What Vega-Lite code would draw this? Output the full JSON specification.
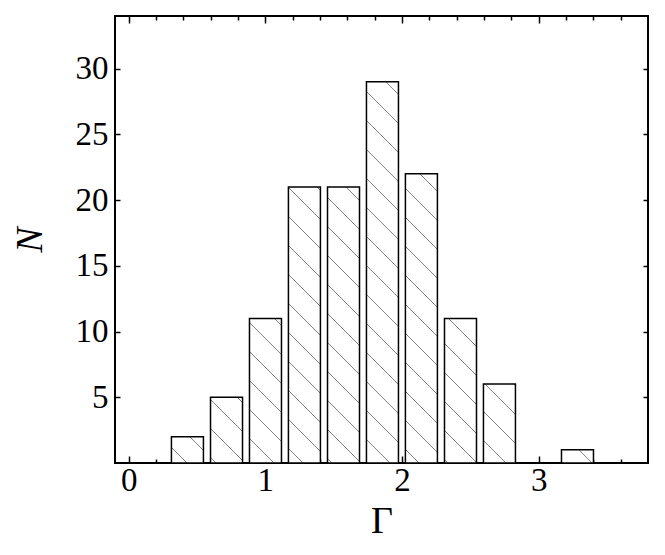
{
  "$schema": "https://vega.github.io/schema/vega-lite/v6.json",
  "width": 533,
  "height": 447,
  "autosize": {"type": "none"},
  "padding": {"left": 115, "top": 16, "right": 17, "bottom": 92},
  "background": "white",
  "config": {
    "view": {"stroke": "black", "strokeWidth": 2},
    "axis": {
      "domain": false,
      "grid": false,
      "tickColor": "black",
      "tickWidth": 1.5,
      "labelFont": "Liberation Serif",
      "labelFontSize": 33,
      "labelColor": "black",
      "labelOverlap": false,
      "labelFlush": false,
      "labelBound": false,
      "titleFont": "Liberation Serif",
      "titleFontSize": 38,
      "titleFontWeight": "normal",
      "titleColor": "black"
    }
  },
  "data": {
    "values": [
      {"gamma": 0.430, "N": 2},
      {"gamma": 0.716, "N": 5},
      {"gamma": 1.001, "N": 11},
      {"gamma": 1.286, "N": 21},
      {"gamma": 1.572, "N": 21},
      {"gamma": 1.857, "N": 29},
      {"gamma": 2.142, "N": 22},
      {"gamma": 2.428, "N": 11},
      {"gamma": 2.713, "N": 6},
      {"gamma": 3.284, "N": 1}
    ]
  },
  "resolve": {"axis": {"x": "independent", "y": "independent"}},
  "layer": [
    {
      "mark": {"type": "bar", "size": 32, "stroke": "black", "strokeWidth": 1.5},
      "encoding": {
        "x": {
          "field": "gamma", "type": "quantitative",
          "scale": {"domain": [-0.1, 3.8], "nice": false, "zero": false, "padding": 0},
          "axis": {
            "orient": "bottom",
            "title": "Γ",
            "values": [0, 0.2, 0.4, 0.6, 0.8, 1, 1.2, 1.4, 1.6, 1.8, 2, 2.2, 2.4, 2.6, 2.8, 3, 3.2, 3.4, 3.6],
            "labelExpr": "datum.value % 1 === 0 ? format(datum.value, 'd') : ''",
            "tickSize": {"condition": {"test": "datum.value % 1 === 0", "value": -7}, "value": -4},
            "labelPadding": 8,
            "titlePadding": 2
          }
        },
        "y": {
          "field": "N", "type": "quantitative",
          "scale": {"domain": [0, 34], "nice": false, "padding": 0},
          "axis": {
            "orient": "left",
            "title": "N",
            "titleFontStyle": "italic",
            "values": [5, 10, 15, 20, 25, 30],
            "tickSize": -5,
            "labelPadding": 12,
            "titlePadding": 26
          }
        },
        "fill": {
          "condition": [
            {"test": "datum.gamma == 0.43", "value": {"gradient": "linear", "x1": 0, "y1": 1, "x2": 1.0875, "y2": 0.1065, "stops": [
              {"offset": 0.2504, "color": "#fff"}, {"offset": 0.2676, "color": "#808080"}, {"offset": 0.2848, "color": "#fff"},
              {"offset": 0.7479, "color": "#fff"}, {"offset": 0.7651, "color": "#808080"}, {"offset": 0.7823, "color": "#fff"}]}},
            {"test": "datum.gamma == 0.716", "value": {"gradient": "linear", "x1": 0, "y1": 1, "x2": 0.5851, "y2": -0.202, "stops": [
              {"offset": 0.0461, "color": "#fff"}, {"offset": 0.0563, "color": "#808080"}, {"offset": 0.0665, "color": "#fff"},
              {"offset": 0.3428, "color": "#fff"}, {"offset": 0.3530, "color": "#808080"}, {"offset": 0.3632, "color": "#fff"},
              {"offset": 0.6395, "color": "#fff"}, {"offset": 0.6497, "color": "#808080"}, {"offset": 0.6599, "color": "#fff"},
              {"offset": 0.9362, "color": "#fff"}, {"offset": 0.9464, "color": "#808080"}, {"offset": 0.9566, "color": "#fff"}]}},
            {"test": "datum.gamma == 1.001", "value": {"gradient": "linear", "x1": 0, "y1": 1, "x2": 0.2576, "y2": -0.1643, "stops": [
              {"offset": 0.1330, "color": "#fff"}, {"offset": 0.1387, "color": "#808080"}, {"offset": 0.1444, "color": "#fff"},
              {"offset": 0.2972, "color": "#fff"}, {"offset": 0.3029, "color": "#808080"}, {"offset": 0.3086, "color": "#fff"},
              {"offset": 0.4614, "color": "#fff"}, {"offset": 0.4671, "color": "#808080"}, {"offset": 0.4728, "color": "#fff"},
              {"offset": 0.6256, "color": "#fff"}, {"offset": 0.6313, "color": "#808080"}, {"offset": 0.6370, "color": "#fff"},
              {"offset": 0.7898, "color": "#fff"}, {"offset": 0.7955, "color": "#808080"}, {"offset": 0.8012, "color": "#fff"},
              {"offset": 0.9540, "color": "#fff"}, {"offset": 0.9597, "color": "#808080"}, {"offset": 0.9654, "color": "#fff"}]}},
            {"test": "datum.gamma == 1.286", "value": {"gradient": "linear", "x1": 0, "y1": 1, "x2": 0.12762, "y2": -0.1011, "stops": [
              {"offset": 0.0441, "color": "#fff"}, {"offset": 0.0474, "color": "#808080"}, {"offset": 0.0507, "color": "#fff"},
              {"offset": 0.1382, "color": "#fff"}, {"offset": 0.1415, "color": "#808080"}, {"offset": 0.1448, "color": "#fff"},
              {"offset": 0.2323, "color": "#fff"}, {"offset": 0.2356, "color": "#808080"}, {"offset": 0.2389, "color": "#fff"},
              {"offset": 0.3265, "color": "#fff"}, {"offset": 0.3298, "color": "#808080"}, {"offset": 0.3331, "color": "#fff"},
              {"offset": 0.4206, "color": "#fff"}, {"offset": 0.4239, "color": "#808080"}, {"offset": 0.4272, "color": "#fff"},
              {"offset": 0.5147, "color": "#fff"}, {"offset": 0.5180, "color": "#808080"}, {"offset": 0.5213, "color": "#fff"},
              {"offset": 0.6089, "color": "#fff"}, {"offset": 0.6122, "color": "#808080"}, {"offset": 0.6155, "color": "#fff"},
              {"offset": 0.7030, "color": "#fff"}, {"offset": 0.7063, "color": "#808080"}, {"offset": 0.7096, "color": "#fff"},
              {"offset": 0.7971, "color": "#fff"}, {"offset": 0.8004, "color": "#808080"}, {"offset": 0.8037, "color": "#fff"},
              {"offset": 0.8912, "color": "#fff"}, {"offset": 0.8945, "color": "#808080"}, {"offset": 0.8978, "color": "#fff"},
              {"offset": 0.9854, "color": "#fff"}, {"offset": 0.9887, "color": "#808080"}, {"offset": 0.9920, "color": "#fff"}]}},
            {"test": "datum.gamma == 1.572", "value": {"gradient": "linear", "x1": 0, "y1": 1, "x2": 0.12762, "y2": -0.1011, "stops": [
              {"offset": 0.0113, "color": "#fff"}, {"offset": 0.0146, "color": "#808080"}, {"offset": 0.0179, "color": "#fff"},
              {"offset": 0.1054, "color": "#fff"}, {"offset": 0.1087, "color": "#808080"}, {"offset": 0.1120, "color": "#fff"},
              {"offset": 0.1996, "color": "#fff"}, {"offset": 0.2029, "color": "#808080"}, {"offset": 0.2062, "color": "#fff"},
              {"offset": 0.2937, "color": "#fff"}, {"offset": 0.2970, "color": "#808080"}, {"offset": 0.3003, "color": "#fff"},
              {"offset": 0.3878, "color": "#fff"}, {"offset": 0.3911, "color": "#808080"}, {"offset": 0.3944, "color": "#fff"},
              {"offset": 0.4819, "color": "#fff"}, {"offset": 0.4852, "color": "#808080"}, {"offset": 0.4885, "color": "#fff"},
              {"offset": 0.5761, "color": "#fff"}, {"offset": 0.5794, "color": "#808080"}, {"offset": 0.5827, "color": "#fff"},
              {"offset": 0.6702, "color": "#fff"}, {"offset": 0.6735, "color": "#808080"}, {"offset": 0.6768, "color": "#fff"},
              {"offset": 0.7643, "color": "#fff"}, {"offset": 0.7676, "color": "#808080"}, {"offset": 0.7709, "color": "#fff"},
              {"offset": 0.8585, "color": "#fff"}, {"offset": 0.8618, "color": "#808080"}, {"offset": 0.8651, "color": "#fff"},
              {"offset": 0.9526, "color": "#fff"}, {"offset": 0.9559, "color": "#808080"}, {"offset": 0.9592, "color": "#fff"}]}},
            {"test": "datum.gamma == 1.857", "value": {"gradient": "linear", "x1": 0, "y1": 1, "x2": 0.09034, "y2": -0.0763, "stops": [
              {"offset": 0.0545, "color": "#fff"}, {"offset": 0.0569, "color": "#808080"}, {"offset": 0.0593, "color": "#fff"},
              {"offset": 0.1246, "color": "#fff"}, {"offset": 0.1270, "color": "#808080"}, {"offset": 0.1294, "color": "#fff"},
              {"offset": 0.1948, "color": "#fff"}, {"offset": 0.1972, "color": "#808080"}, {"offset": 0.1996, "color": "#fff"},
              {"offset": 0.2650, "color": "#fff"}, {"offset": 0.2674, "color": "#808080"}, {"offset": 0.2698, "color": "#fff"},
              {"offset": 0.3352, "color": "#fff"}, {"offset": 0.3376, "color": "#808080"}, {"offset": 0.3400, "color": "#fff"},
              {"offset": 0.4053, "color": "#fff"}, {"offset": 0.4077, "color": "#808080"}, {"offset": 0.4101, "color": "#fff"},
              {"offset": 0.4755, "color": "#fff"}, {"offset": 0.4779, "color": "#808080"}, {"offset": 0.4803, "color": "#fff"},
              {"offset": 0.5457, "color": "#fff"}, {"offset": 0.5481, "color": "#808080"}, {"offset": 0.5505, "color": "#fff"},
              {"offset": 0.6159, "color": "#fff"}, {"offset": 0.6183, "color": "#808080"}, {"offset": 0.6207, "color": "#fff"},
              {"offset": 0.6860, "color": "#fff"}, {"offset": 0.6884, "color": "#808080"}, {"offset": 0.6908, "color": "#fff"},
              {"offset": 0.7562, "color": "#fff"}, {"offset": 0.7586, "color": "#808080"}, {"offset": 0.7610, "color": "#fff"},
              {"offset": 0.8264, "color": "#fff"}, {"offset": 0.8288, "color": "#808080"}, {"offset": 0.8312, "color": "#fff"},
              {"offset": 0.8966, "color": "#fff"}, {"offset": 0.8990, "color": "#808080"}, {"offset": 0.9014, "color": "#fff"},
              {"offset": 0.9667, "color": "#fff"}, {"offset": 0.9691, "color": "#808080"}, {"offset": 0.9715, "color": "#fff"}]}},
            {"test": "datum.gamma == 2.142", "value": {"gradient": "linear", "x1": 0, "y1": 1, "x2": 0.12139, "y2": -0.0972, "stops": [
              {"offset": 0.0392, "color": "#fff"}, {"offset": 0.0423, "color": "#808080"}, {"offset": 0.0454, "color": "#fff"},
              {"offset": 0.1295, "color": "#fff"}, {"offset": 0.1326, "color": "#808080"}, {"offset": 0.1357, "color": "#fff"},
              {"offset": 0.2198, "color": "#fff"}, {"offset": 0.2229, "color": "#808080"}, {"offset": 0.2260, "color": "#fff"},
              {"offset": 0.3101, "color": "#fff"}, {"offset": 0.3132, "color": "#808080"}, {"offset": 0.3163, "color": "#fff"},
              {"offset": 0.4003, "color": "#fff"}, {"offset": 0.4034, "color": "#808080"}, {"offset": 0.4065, "color": "#fff"},
              {"offset": 0.4906, "color": "#fff"}, {"offset": 0.4937, "color": "#808080"}, {"offset": 0.4968, "color": "#fff"},
              {"offset": 0.5809, "color": "#fff"}, {"offset": 0.5840, "color": "#808080"}, {"offset": 0.5871, "color": "#fff"},
              {"offset": 0.6712, "color": "#fff"}, {"offset": 0.6743, "color": "#808080"}, {"offset": 0.6774, "color": "#fff"},
              {"offset": 0.7614, "color": "#fff"}, {"offset": 0.7645, "color": "#808080"}, {"offset": 0.7676, "color": "#fff"},
              {"offset": 0.8517, "color": "#fff"}, {"offset": 0.8548, "color": "#808080"}, {"offset": 0.8579, "color": "#fff"},
              {"offset": 0.9420, "color": "#fff"}, {"offset": 0.9451, "color": "#808080"}, {"offset": 0.9482, "color": "#fff"}]}},
            {"test": "datum.gamma == 2.428", "value": {"gradient": "linear", "x1": 0, "y1": 1, "x2": 0.2576, "y2": -0.1643, "stops": [
              {"offset": 0.0141, "color": "#fff"}, {"offset": 0.0198, "color": "#808080"}, {"offset": 0.0255, "color": "#fff"},
              {"offset": 0.1783, "color": "#fff"}, {"offset": 0.1840, "color": "#808080"}, {"offset": 0.1897, "color": "#fff"},
              {"offset": 0.3425, "color": "#fff"}, {"offset": 0.3482, "color": "#808080"}, {"offset": 0.3539, "color": "#fff"},
              {"offset": 0.5067, "color": "#fff"}, {"offset": 0.5124, "color": "#808080"}, {"offset": 0.5181, "color": "#fff"},
              {"offset": 0.6709, "color": "#fff"}, {"offset": 0.6766, "color": "#808080"}, {"offset": 0.6823, "color": "#fff"},
              {"offset": 0.8351, "color": "#fff"}, {"offset": 0.8408, "color": "#808080"}, {"offset": 0.8465, "color": "#fff"}]}},
            {"test": "datum.gamma == 2.713", "value": {"gradient": "linear", "x1": 0, "y1": 1, "x2": 0.4897, "y2": -0.2071, "stops": [
              {"offset": 0.1939, "color": "#fff"}, {"offset": 0.2029, "color": "#808080"}, {"offset": 0.2119, "color": "#fff"},
              {"offset": 0.4555, "color": "#fff"}, {"offset": 0.4645, "color": "#808080"}, {"offset": 0.4735, "color": "#fff"},
              {"offset": 0.7170, "color": "#fff"}, {"offset": 0.7260, "color": "#808080"}, {"offset": 0.7350, "color": "#fff"},
              {"offset": 0.9785, "color": "#fff"}, {"offset": 0.9875, "color": "#808080"}, {"offset": 0.9965, "color": "#fff"}]}},
            {"test": "datum.gamma == 3.284", "value": {"gradient": "linear", "x1": 0, "y1": 1, "x2": 1.2071, "y2": 0.504, "stops": [
              {"offset": 0.0133, "color": "#fff"}, {"offset": 0.0354, "color": "#808080"}, {"offset": 0.0575, "color": "#fff"},
              {"offset": 0.6556, "color": "#fff"}, {"offset": 0.6777, "color": "#808080"}, {"offset": 0.6998, "color": "#fff"}]}}
          ],
          "value": "white"
        }
      }
    },
    {
      "mark": {"type": "point", "opacity": 0},
      "encoding": {
        "x": {
          "field": "gamma", "type": "quantitative",
          "scale": {"domain": [-0.1, 3.8], "nice": false, "zero": false, "padding": 0},
          "axis": {
            "orient": "top",
            "title": null,
            "labels": false,
            "values": [0, 0.2, 0.4, 0.6, 0.8, 1, 1.2, 1.4, 1.6, 1.8, 2, 2.2, 2.4, 2.6, 2.8, 3, 3.2, 3.4, 3.6],
            "tickSize": {"condition": {"test": "datum.value % 1 === 0", "value": -7}, "value": -4}
          }
        },
        "y": {
          "field": "N", "type": "quantitative",
          "scale": {"domain": [0, 34], "nice": false, "padding": 0},
          "axis": {
            "orient": "right",
            "title": null,
            "labels": false,
            "values": [5, 10, 15, 20, 25, 30],
            "tickSize": -5
          }
        }
      }
    }
  ]
}
